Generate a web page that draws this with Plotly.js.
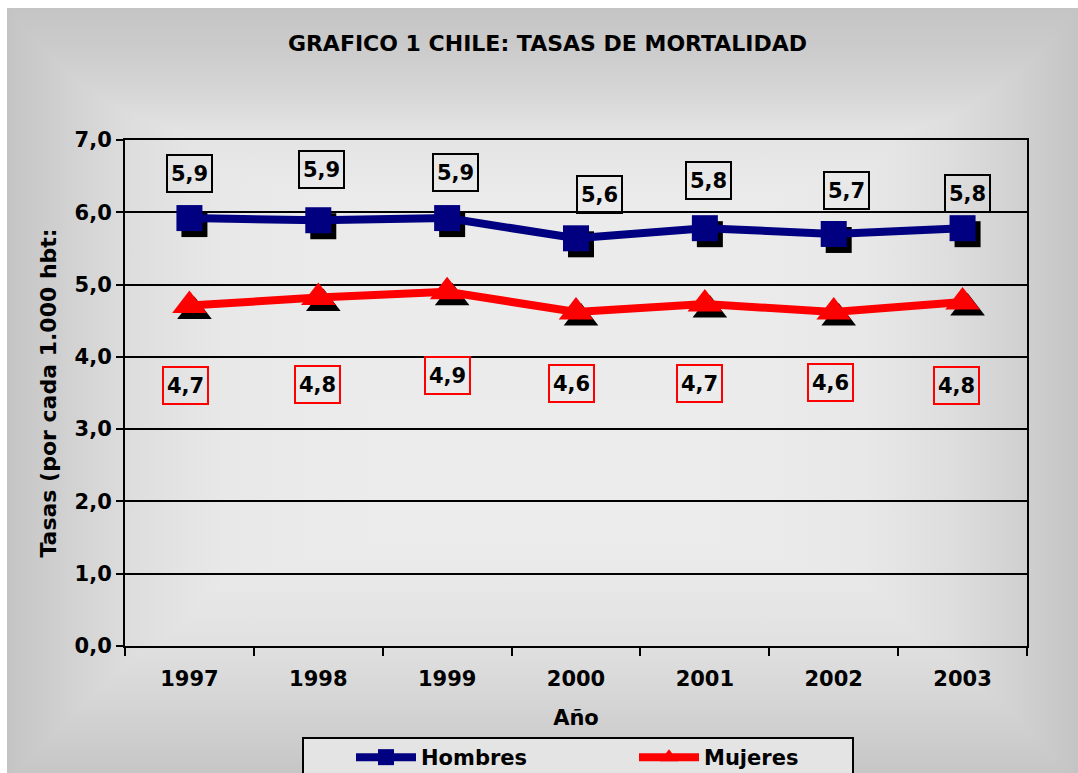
<!DOCTYPE html>
<html><head><meta charset="utf-8">
<script src="https://cdn.plot.ly/plotly-3.0.1.min.js"></script>
<style>
html,body{margin:0;padding:0;background:#ffffff;}
#bg{position:absolute;left:7px;top:8px;width:1071px;height:765px;
background-image:
 linear-gradient(to right,#c4c4c4 0%,#d2d2d2 6%,#dedede 12%,#e8e8e8 20%,#ececec 35%,#ececec 65%,#e8e8e8 80%,#dedede 88%,#d2d2d2 94%,#c4c4c4 100%),
 linear-gradient(to bottom,#c4c4c4 0%,#cbcbcb 5%,#d6d6d6 11%,#e3e3e3 16%,#ebebeb 25%,#ececec 70%,#e2e2e2 82%,#d6d6d6 90%,#c6c6c6 100%);
background-blend-mode:darken;}
#chart{position:absolute;left:0;top:0;width:1078px;height:773px;}
</style></head><body><div id="bg"></div><div id="chart"></div>
<script>
// ---- data ----
const years = ['1997','1998','1999','2000','2001','2002','2003'];
const hombres = [5.92, 5.89, 5.92, 5.64, 5.78, 5.70, 5.78];
const mujeres = [4.71, 4.82, 4.90, 4.62, 4.73, 4.62, 4.76];
const yTickVals = [0, 1, 2, 3, 4, 5, 6, 7];
const seriesNames = ['Hombres', 'Mujeres'];

// ---- label placement (px offsets from each point) ----
const hombresLabelDX = [0, 3, 8, 23, 4, 13, 5];
const hombresLabelDY = [45, 51, 46, 44, 48, 43, 35];
const mujeresLabelDX = [-4, -1, 0, -5, -5, -3, -6];
const mujeresLabelDY = [-80, -87, -84, -71, -79, -70, -84];

// ---- geometry helpers ----
const W = 1078, H = 773;
const M = {l:125, r:51, t:140, b:127};
const plotW = W - M.l - M.r, plotH = H - M.t - M.b;
const xRange = [-0.5, years.length - 0.5];
const yRange = [0, 7];
const shadowDX = 5, shadowDY = 6;
const dxu = shadowDX * (xRange[1]-xRange[0]) / plotW;
const dyu = shadowDY * (yRange[1]-yRange[0]) / plotH;
const px2paperX = p => (p - M.l) / plotW;
const px2paperY = p => (H - M.b - p) / plotH;

const FONT = 'DejaVu Sans, Verdana, sans-serif';
const bold = (s, c) => ({family: FONT, size: s, color: c || '#000000', weight: 'bold'});
const fmt = v => v.toFixed(1).replace('.', ',');

const navy = '#000080', red = '#ff0000';

const traces = [
  // invisible carrier on the base axes (registers categories for the visible axis)
  {x: years, y: hombres, mode:'lines', line:{width:0, color:'rgba(0,0,0,0)'}, opacity:0,
   showlegend:false, hoverinfo:'skip'},
  // marker shadows
  {x: years, y: hombres, xaxis:'x2', yaxis:'y2', mode:'markers', showlegend:false, hoverinfo:'skip',
   marker:{symbol:'square', size:26, color:'#000000'}},
  {x: years, y: mujeres, xaxis:'x2', yaxis:'y2', mode:'markers', showlegend:false, hoverinfo:'skip',
   marker:{symbol:'triangle-up', size:30, color:'#000000'}},
  // series
  {x: years, y: hombres, xaxis:'x3', yaxis:'y3', name: seriesNames[0], mode:'lines+markers',
   line:{color:navy, width:8}, marker:{symbol:'square', size:26, color:navy}},
  {x: years, y: mujeres, xaxis:'x3', yaxis:'y3', name: seriesNames[1], mode:'lines+markers',
   line:{color:red, width:8}, marker:{symbol:'triangle-up', size:30, color:red}}
];

// data labels: x is the category serial index on the category axis
const annotations = [];
years.forEach((yr, i) => {
  annotations.push({x: i, y: hombres[i], xref:'x', yref:'y', text: fmt(hombres[i]), showarrow:false,
    xshift: hombresLabelDX[i], yshift: hombresLabelDY[i], font: bold(21),
    bordercolor:'#000000', borderwidth:2, borderpad:1, width:41, height:33});
  annotations.push({x: i, y: mujeres[i], xref:'x', yref:'y', text: fmt(mujeres[i]), showarrow:false,
    xshift: mujeresLabelDX[i], yshift: mujeresLabelDY[i], font: bold(21),
    bordercolor:red, borderwidth:2, borderpad:1, width:41, height:33});
});

const hiddenAx = (extra) => Object.assign({visible:false, showgrid:false, zeroline:false, fixedrange:true}, extra);

const layout = {
  width: W, height: H, autosize:false,
  margin: M,
  paper_bgcolor:'rgba(0,0,0,0)', plot_bgcolor:'rgba(0,0,0,0)',
  separators: ',.',
  showlegend: true,
  title: {text:'GRAFICO 1 CHILE: TASAS DE MORTALIDAD', font: bold(22),
    xref:'container', yref:'container', x: 547.5/W, xanchor:'center', y: 1 - 43/H, yanchor:'middle'},
  xaxis: {type:'category', categoryorder:'array', categoryarray: years, range: xRange,
    showline:true, linecolor:'#000000', linewidth:2, mirror:true,
    ticks:'outside', tickson:'boundaries', ticklen:8, tickwidth:2, tickcolor:'#000000',
    showgrid:false, zeroline:false, tickfont: bold(21), ticklabelstandoff: 13, automargin:false,
    title:{text:'Año', font: bold(21), standoff: 20}},
  yaxis: {range: yRange, tickvals: yTickVals, tickformat:'.1f',
    showline:true, linecolor:'#000000', linewidth:2, mirror:true,
    ticks:'outside', ticklen:7, tickwidth:2, tickcolor:'#000000',
    showgrid:true, gridcolor:'#000000', gridwidth:2, zeroline:false,
    tickfont: bold(21), automargin:false,
    title:{text:'Tasas (por cada 1.000 hbt:', font: bold(22), standoff: 12}},
  xaxis2: hiddenAx({type:'category', categoryorder:'array', categoryarray: years, overlaying:'x',
    range:[xRange[0]-dxu, xRange[1]-dxu]}),
  yaxis2: hiddenAx({overlaying:'y', range:[yRange[0]+dyu, yRange[1]+dyu]}),
  xaxis3: hiddenAx({type:'category', categoryorder:'array', categoryarray: years, overlaying:'x', range: xRange}),
  yaxis3: hiddenAx({overlaying:'y', range: yRange}),
  legend: {orientation:'h', xref:'container', yref:'container', x: 351/W, xanchor:'left', y: 1 - 737/H, yanchor:'top',
    bgcolor:'rgba(0,0,0,0)', borderwidth:0, font: bold(21), itemwidth:60, entrywidth:208,
    traceorder:'normal'},
  shapes: [{type:'rect', xref:'paper', yref:'paper', layer:'above',
    x0: px2paperX(303), x1: px2paperX(853), y0: px2paperY(738), y1: px2paperY(800),
    line:{color:'#000000', width:2}, fillcolor:'#e4e4e4'}],
  annotations: annotations
};

Plotly.newPlot('chart', traces, layout, {staticPlot:true, displayModeBar:false});
</script>
</body></html>
